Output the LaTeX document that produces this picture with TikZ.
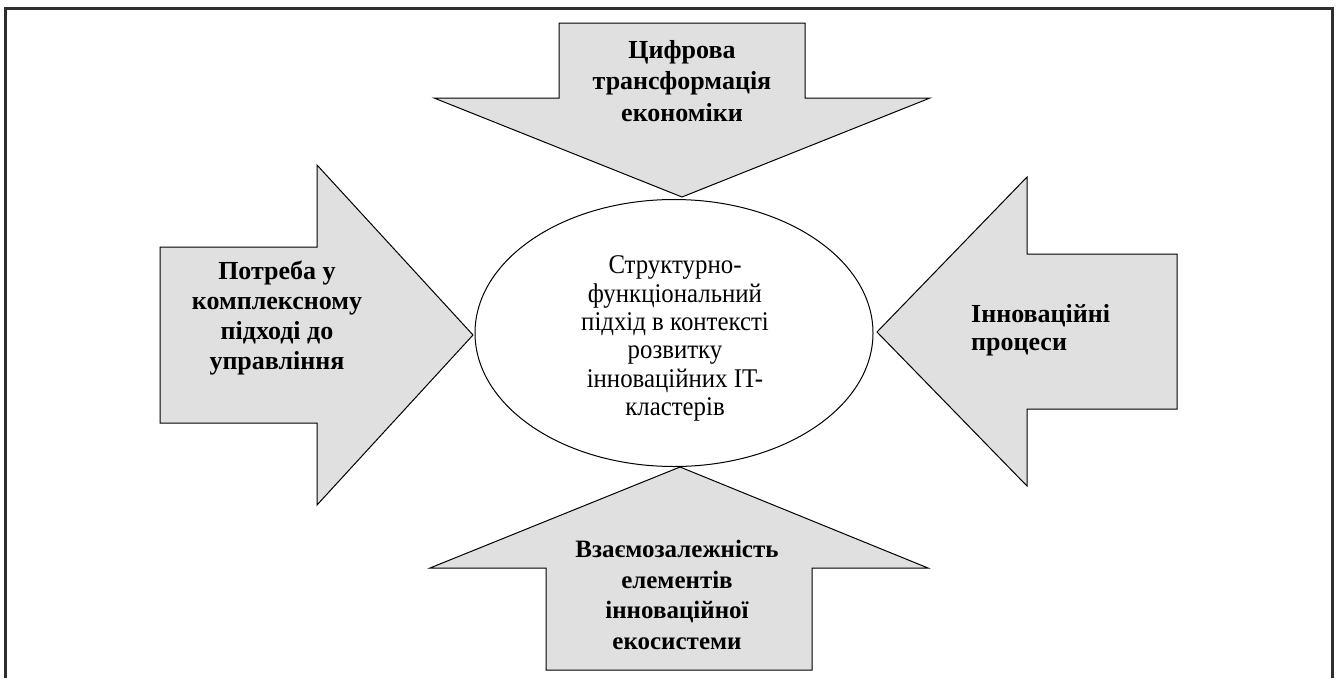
\documentclass[tikz,border=0pt]{standalone}
\usepackage{fontspec}
\setmainfont{Liberation Serif}
\usepackage{graphicx}
\usepackage{tikz}
\usetikzlibrary{shapes.geometric}

\definecolor{arrowgray}{HTML}{E0E0E0}
\definecolor{framegray}{HTML}{2E2E2E}

\tikzset{
	blockarrow/.style={fill=arrowgray, draw=black, line width=1pt, line join=miter},
	arrowtext/.style={align=center, inner sep=0pt, font=\bfseries},
}

\begin{document}
\begin{tikzpicture}[x=1pt, y=-1pt]
		\useasboundingbox (0,0) rectangle (1336,678);
		
		\draw [framegray, line width=3pt] (5,678) -- (5,8) -- (1332,8) -- (1332,678);
		
		% top arrow, pointing down
		\filldraw [blockarrow] (559,23) -- (805,23) -- (805,98) -- (930,98) -- (682,197) -- (434,98) -- (559,98) -- cycle;
		% left arrow, pointing right
		\filldraw [blockarrow] (160,247) -- (317,247) -- (317,165) -- (473,335) -- (317,505) -- (317,423) -- (160,423) -- cycle;
		% right arrow, pointing left
		\filldraw [blockarrow] (1177,254) -- (1027,254) -- (1027,177) -- (877,332) -- (1027,486) -- (1027,409) -- (1177,409) -- cycle;
		% bottom arrow, pointing up
		\filldraw [blockarrow] (546,670) -- (546,568) -- (430,568) -- (680,467) -- (928,568) -- (812,568) -- (812,670) -- cycle;
		
		\node [ellipse, draw, fill=white, line width=1pt, minimum width=398pt, minimum height=267pt] (core) at (674,333) {};
		\node [inner sep=0pt, font=\fontsize{27}{28.3}\selectfont] (coretext) at (675,339)
			{\scalebox{0.92}[1]{\begin{tabular}{@{}c@{}}Структурно-\\функціональний\\підхід в контексті\\розвитку\\інноваційних IT-\\кластерів\end{tabular}}};
		
		\node [arrowtext, font=\bfseries\fontsize{26}{31.5}\selectfont] (digital) at (682,81)
			{Цифрова\\трансформація\\економіки};
		\node [arrowtext, font=\bfseries\fontsize{26}{30}\selectfont] (need) at (277,318)
			{Потреба у\\комплексному\\підході до\\управління};
		\node [arrowtext, align=left, anchor=west, font=\bfseries\fontsize{26}{28}\selectfont] (innov) at (971,330)
			{Інноваційні\\процеси};
		\node [arrowtext, font=\bfseries\fontsize{25}{30.7}\selectfont] (interdep) at (677,595)
			{Взаємозалежність\\елементів\\інноваційної\\екосистеми};
	\end{tikzpicture}
\end{document}
